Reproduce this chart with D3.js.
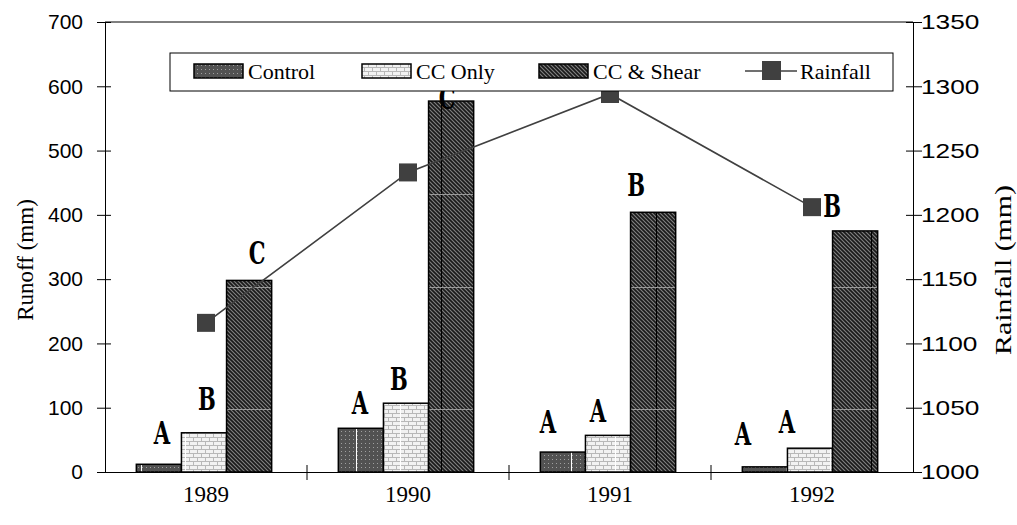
<!DOCTYPE html>
<html>
<head>
<meta charset="utf-8">
<script src="https://cdn.jsdelivr.net/npm/d3@7"></script>
<style>
  body { margin: 0; background: #fff; }
  svg { display: block; }
</style>
</head>
<body>
<div id="root"></div>
<script>
// Data.
const years = ['1989', '1990', '1991', '1992'];
const treatments = ['Control', 'CC Only', 'CC & Shear'];
const control = [12, 68, 31, 8];
const ccOnly = [61, 107, 57, 37];
const ccShear = [298, 577, 404, 375];
const rainfall = [1116, 1233, 1294, 1206];
const runoffTicks = [0, 100, 200, 300, 400, 500, 600, 700];
const rainTicks = [1000, 1050, 1100, 1150, 1200, 1250, 1300, 1350];

// Significance letters per year (Control, CC Only, CC & Shear) and the runoff level they sit at.
const letters = [['A', 'B', 'C'], ['A', 'B', 'C'], ['A', 'A', 'B'], ['A', 'A', 'B']];
const letterLevels = [[44, 96, 323], [91, 128, 565], [61, 78, 429], [42, 61, 397]];
const letterNudge = [[3, 3, 8], [-1, -7, -4], [-15, -10, -17], [-22, -23, -23]];

const margin = { top: 22, right: 104, bottom: 53, left: 105 };
const width = 1017 - margin.left - margin.right;
const height = 525 - margin.top - margin.bottom;

const svgRoot = d3.select('#root')
  .append('svg')
  .attr('width', 1017)
  .attr('height', 525);

// Fill patterns, roughly the Excel textures.
const defs = svgRoot.append('defs');

const ctrlFine = defs.append('pattern').attr('id', 'ctrlFine')
  .attr('patternUnits', 'userSpaceOnUse').attr('width', 4).attr('height', 4);
ctrlFine.append('rect').attr('width', 4).attr('height', 4).attr('fill', '#525252');
ctrlFine.append('rect').attr('x', 1).attr('y', 1).attr('width', 1).attr('height', 1).attr('fill', '#a0a0a0');

const ccFine = defs.append('pattern').attr('id', 'ccFine')
  .attr('patternUnits', 'userSpaceOnUse').attr('width', 8).attr('height', 8);
ccFine.append('rect').attr('width', 8).attr('height', 8).attr('fill', '#f2f2f2');
ccFine.append('path')
  .attr('d', 'M0,3.5H8M0,7.5H8M0.5,0V3.5M4.5,4V8')
  .attr('stroke', '#b8b8b8').attr('stroke-width', 1);

const shearFine = defs.append('pattern').attr('id', 'shearFine')
  .attr('patternUnits', 'userSpaceOnUse').attr('width', 4).attr('height', 4);
shearFine.append('rect').attr('width', 4).attr('height', 4).attr('fill', '#808080');
shearFine.append('path')
  .attr('d', 'M-1,-1L5,5M-1,3L1,5M3,-1L5,1')
  .attr('stroke', '#1a1a1a').attr('stroke-width', 1.7);

// Larger tiles that add the stray seam lines seen in the bars.
function tile(id, fine, seamX, seamColor, extra) {
  const p = defs.append('pattern').attr('id', id)
    .attr('patternUnits', 'userSpaceOnUse').attr('width', 215).attr('height', 1000);
  p.append('rect').attr('width', 215).attr('height', 1000).attr('fill', `url(#${fine})`);
  p.append('rect').attr('x', seamX).attr('width', 1).attr('height', 1000).attr('fill', seamColor);
  if (extra) extra(p);
}
tile('ctrlFill', 'ctrlFine', 36, '#ffffff');
tile('ccFill', 'ccFine', 80, '#ffffff');
tile('shearFill', 'shearFine', 121, '#000000', p => {
  [172, 265, 387].forEach(yy => {
    p.append('rect').attr('y', yy).attr('width', 215).attr('height', 1).attr('fill', '#9a9a9a');
  });
});

const fills = ['url(#ctrlFill)', 'url(#ccFill)', 'url(#shearFill)'];
const swatchFills = ['url(#ctrlFine)', 'url(#ccFine)', 'url(#shearFine)'];

const svg = svgRoot.append('g')
  .attr('transform', `translate(${margin.left}, ${margin.top})`);

// Scales.
const x0 = d3.scaleBand()
  .domain(years)
  .range([0, width])
  .paddingInner(0.33)
  .paddingOuter(0.165)
  .align(0.47);

const x1 = d3.scaleBand()
  .domain(treatments)
  .range([0, x0.bandwidth()]);

const xEdge = d3.scaleLinear().domain([0, years.length]).range([0, width]);

const y = d3.scaleLinear().domain([0, 700]).range([height, 0]);
const y2 = d3.scaleLinear().domain([1000, 1350]).range([height, 0]);

const rows = years.map((yr, i) => ({
  year: yr,
  values: [control[i], ccOnly[i], ccShear[i]]
}));

// Bars (drawn in plot space so the pattern seams line up like the original).
svg.selectAll('.year')
  .data(rows)
  .enter()
  .append('g')
  .attr('class', 'year')
  .selectAll('rect')
  .data(d => d.values.map((v, j) => ({ key: treatments[j], value: v, j: j, x: x0(d.year) })))
  .enter()
  .append('rect')
  .attr('x', d => d.x + x1(d.key))
  .attr('y', d => y(d.value))
  .attr('width', x1.bandwidth())
  .attr('height', d => height - y(d.value))
  .attr('fill', d => fills[d.j])
  .attr('stroke', '#000')
  .attr('stroke-width', 1.5);

// Letters above bars.
rows.forEach((d, i) => {
  treatments.forEach((t, j) => {
    const cx = x0(d.year) + x1(t) + x1.bandwidth() / 2 + letterNudge[i][j];
    svg.append('text')
      .attr('transform', `translate(${cx},${y(letterLevels[i][j])}) scale(0.68,1)`)
      .attr('text-anchor', 'middle')
      .style('font-family', 'DejaVu Serif')
      .style('font-weight', 'bold')
      .style('font-size', '31px')
      .attr('fill', '#000')
      .text(letters[i][j]);
  });
});

// Rainfall line.
const line = d3.line()
  .x((d, i) => x0(years[i]) + x0.bandwidth() / 2 + 2)
  .y(d => y2(d));

svg.append('path')
  .datum(rainfall)
  .attr('d', line)
  .attr('fill', 'none')
  .attr('stroke', '#404040')
  .attr('stroke-width', 1.6);

svg.selectAll('.rain')
  .data(rainfall)
  .enter()
  .append('rect')
  .attr('class', 'rain')
  .attr('x', (d, i) => x0(years[i]) + x0.bandwidth() / 2 + 2 - 9)
  .attr('y', d => y2(d) - 9)
  .attr('width', 18)
  .attr('height', 18)
  .attr('fill', '#404040');

// Frame top.
svg.append('line')
  .attr('x1', 0).attr('x2', width).attr('y1', 0).attr('y2', 0)
  .attr('stroke', '#000').attr('stroke-width', 1);

// Left axis.
const yAxis = d3.axisLeft(y).tickValues(runoffTicks).tickSizeInner(8).tickSizeOuter(0).tickPadding(14);
const gy = svg.append('g').call(yAxis);
gy.selectAll('.tick line').attr('x1', 6);
gy.selectAll('text')
  .style('font-family', 'Liberation Sans, Arial')
  .style('font-size', '21px')
  .attr('fill', '#000');

// Right axis.
const yAxis2 = d3.axisRight(y2).tickValues(rainTicks).tickFormat(d3.format('d'))
  .tickSizeInner(9).tickSizeOuter(0).tickPadding(0);
const gy2 = svg.append('g').attr('transform', `translate(${width},0)`).call(yAxis2);
gy2.selectAll('.tick line').attr('x1', -7);
gy2.selectAll('text')
  .attr('x', 0)
  .attr('transform', 'translate(8,0) scale(1.25,1)')
  .style('font-family', 'Liberation Sans, Arial')
  .style('font-size', '21px')
  .attr('fill', '#000');

// Bottom axis with ticks at year boundaries.
const xAxis = d3.axisBottom(x0).tickSize(0).tickPadding(14);
const gx = svg.append('g').attr('transform', `translate(0,${height})`).call(xAxis);
gx.selectAll('text')
  .attr('transform', 'translate(2,0)')
  .style('font-family', 'Liberation Serif, Times New Roman')
  .style('font-size', '23px')
  .attr('fill', '#000');

svg.append('g')
  .selectAll('line')
  .data(d3.range(1, years.length))
  .enter()
  .append('line')
  .attr('x1', d => xEdge(d)).attr('x2', d => xEdge(d))
  .attr('y1', height - 7).attr('y2', height + 8)
  .attr('stroke', '#000');

svg.selectAll('.domain').attr('stroke', '#000');

// Axis titles.
svg.append('text')
  .attr('transform', `translate(-72,${238}) rotate(-90)`)
  .attr('text-anchor', 'middle')
  .style('font-family', 'Liberation Serif, Times New Roman')
  .style('font-size', '23px')
  .text('Runoff (mm)');

svg.append('text')
  .attr('transform', `translate(${width + 98},${248}) rotate(-90) scale(1.3,1)`)
  .attr('text-anchor', 'middle')
  .style('font-family', 'Liberation Serif, Times New Roman')
  .style('font-size', '23px')
  .text('Rainfall (mm)');

// Legend.
const legend = svgRoot.append('g').attr('id', 'legend');
legend.append('rect')
  .attr('x', 170).attr('y', 53).attr('width', 723).attr('height', 38)
  .attr('fill', '#fff').attr('stroke', '#000').attr('stroke-width', 1);

const swatchX = [194, 362, 539];
treatments.forEach((t, j) => {
  legend.append('rect')
    .attr('x', swatchX[j]).attr('y', 64).attr('width', 49).attr('height', 14)
    .attr('fill', swatchFills[j]).attr('stroke', '#000').attr('stroke-width', 1.5);
  legend.append('text')
    .attr('x', swatchX[j] + 54).attr('y', 79)
    .style('font-family', 'Liberation Serif, Times New Roman')
    .style('font-size', '22px')
    .text(t);
});

legend.append('line')
  .attr('x1', 745).attr('x2', 797).attr('y1', 71).attr('y2', 71)
  .attr('stroke', '#404040').attr('stroke-width', 1.6);
legend.append('rect')
  .attr('x', 762).attr('y', 61).attr('width', 19).attr('height', 19)
  .attr('fill', '#404040');
legend.append('text')
  .attr('x', 800).attr('y', 79)
  .style('font-family', 'Liberation Serif, Times New Roman')
  .style('font-size', '22px')
  .text('Rainfall');
</script>
</body>
</html>
